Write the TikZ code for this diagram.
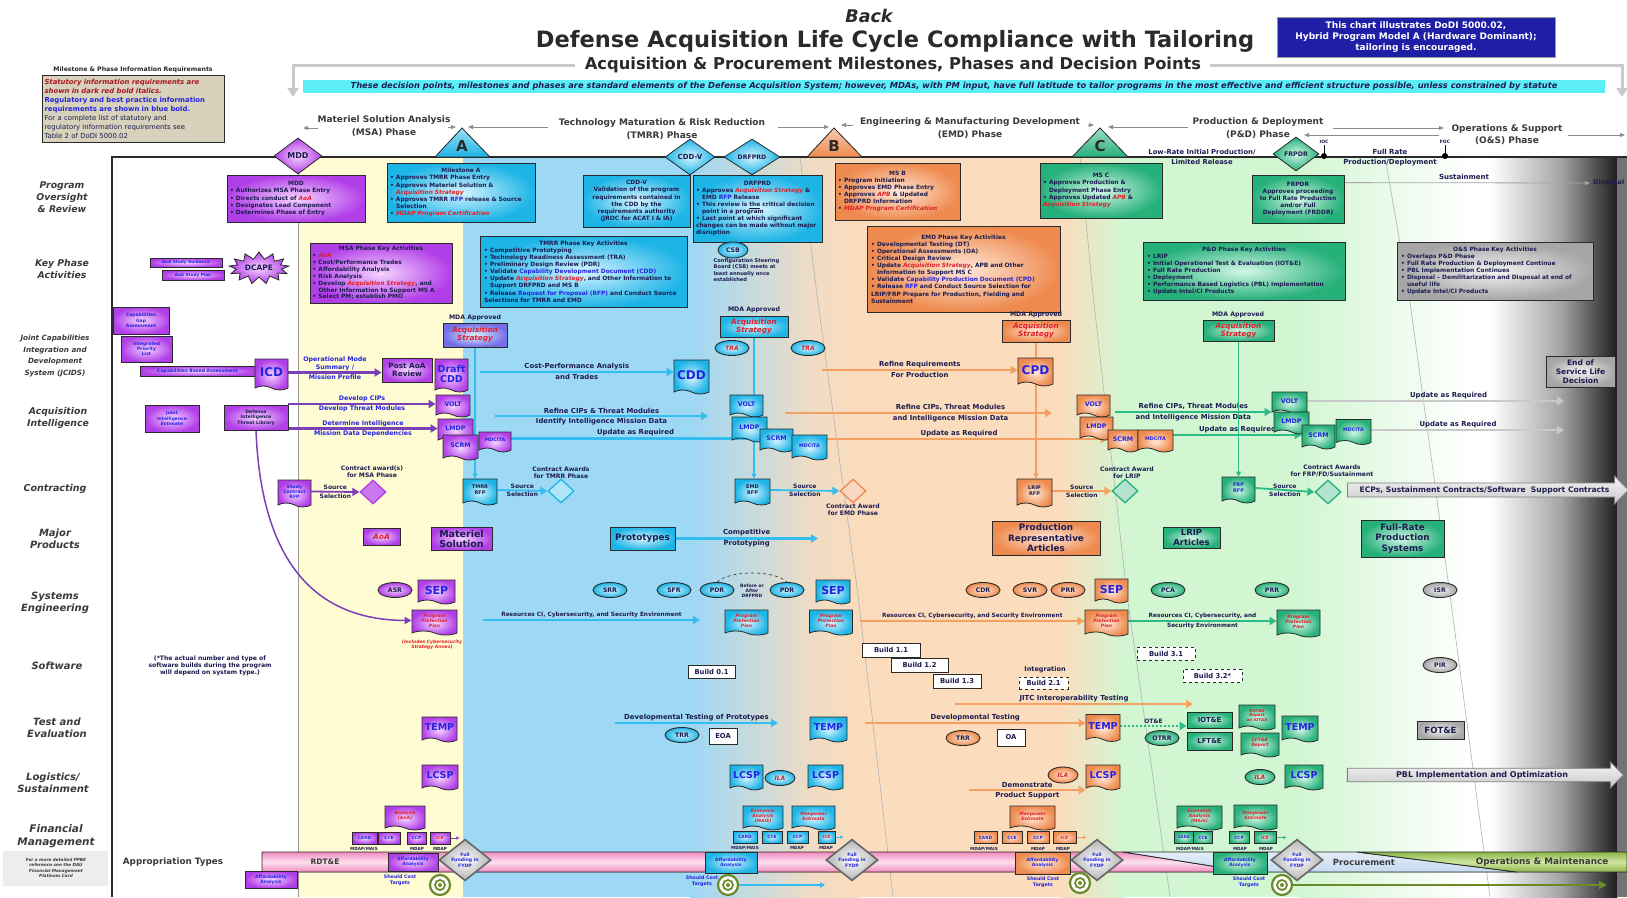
\documentclass[tikz,border=0pt]{standalone}
\usepackage{fontspec}
\setmainfont{DejaVu Sans}
\usetikzlibrary{shapes.geometric,shapes.symbols,shapes.arrows,arrows.meta,calc}
\pgfdeclarelayer{back}
\pgfdeclarelayer{mid}
\pgfsetlayers{back,mid,main}
\hyphenpenalty=10000
\exhyphenpenalty=10000
\definecolor{ink}{HTML}{1C1C50}
\definecolor{stat}{HTML}{E0202A}
\definecolor{reg}{HTML}{2424E0}
\definecolor{edge}{HTML}{2A2A2A}
\definecolor{purD}{HTML}{B13FE8}
\definecolor{purL}{HTML}{F6D4FF}
\definecolor{purA}{HTML}{7B3FB8}
\definecolor{cyaD}{HTML}{1DB4E6}
\definecolor{cyaL}{HTML}{D6F4FF}
\definecolor{cyaA}{HTML}{33BDF0}
\definecolor{oraD}{HTML}{EE8A4E}
\definecolor{oraL}{HTML}{FFE9DA}
\definecolor{oraA}{HTML}{F5A060}
\definecolor{greD}{HTML}{26B07A}
\definecolor{greL}{HTML}{D2F7E6}
\definecolor{greA}{HTML}{2DBB88}
\definecolor{graD}{HTML}{A6A6A6}
\definecolor{graL}{HTML}{F4F4F4}
\definecolor{graA}{HTML}{C9C9C9}
\definecolor{yelBG}{HTML}{FFFBD2}
\definecolor{bluBG}{HTML}{9DD8F5}
\definecolor{tanBG}{HTML}{F0DCC4}
\definecolor{peaBG}{HTML}{FBDCBC}
\definecolor{grnBG}{HTML}{D2F6D2}
\definecolor{olv}{HTML}{6B8A2A}
\definecolor{navyB}{HTML}{1E1EA6}
\definecolor{bannerC}{HTML}{5BEEF6}
\definecolor{legC}{HTML}{D8D1BC}
\definecolor{pinkD}{HTML}{F08CC0}
\definecolor{pinkL}{HTML}{FDE0EE}
\definecolor{procC}{HTML}{C6DAF0}
\definecolor{omD}{HTML}{8DB548}
\definecolor{omL}{HTML}{CFE6A2}
\definecolor{lab}{HTML}{3A3A3A}
\newcommand\fs[2]{\fontsize{#1}{#2}\selectfont}
\newcommand\rtx[1]{\textcolor{stat}{\itshape #1}}
\newcommand\btx[1]{\textcolor{reg}{#1}}
\newcommand\bitem[1]{\par\hangindent=6pt\hangafter=1\noindent\makebox[6pt][l]{\textbullet}#1}
\newcommand\tgt[2]{\node[circle, draw=olv, line width=2.2pt, fill=white, minimum size=20pt, inner sep=0pt] (#1) at (#2) {};\draw[olv, line width=1.8pt] (#1) circle (5pt);\fill[olv] (#1) circle (2pt);}
\tikzset{
 every node/.style={inner sep=1.5pt, text=ink, font=\bfseries\fs{5.9}{7.1}},
 sz/.style 2 args={minimum width=#1pt, minimum height=#2pt},
 tw/.style={text width=#1pt, align=left},
 bx/.style={rectangle, draw=edge, line width=0.8pt},
 purb/.style={bx, inner color=purL, outer color=purD},
 cyab/.style={bx, inner color=cyaL, outer color=cyaD},
 orab/.style={bx, inner color=oraL, outer color=oraD},
 greb/.style={bx, inner color=greL, outer color=greD},
 grab/.style={bx, inner color=graL, outer color=graD},
 docb/.style={tape, tape bend top=none, tape bend bottom=out and in, tape bend height=4pt, draw=edge, line width=0.8pt, inner sep=1pt, align=center},
 pdoc/.style={docb, inner color=purL, outer color=purD},
 cdoc/.style={docb, inner color=cyaL, outer color=cyaD},
 odoc/.style={docb, inner color=oraL, outer color=oraD},
 gdoc/.style={docb, inner color=greL, outer color=greD},
 ellb/.style={ellipse, draw=edge, line width=0.9pt, inner sep=0pt, minimum width=34pt, minimum height=15pt, font=\bfseries\fs{6.2}{6.5}},
 pell/.style={ellb, inner color=purL, outer color=purD},
 cell/.style={ellb, inner color=cyaL, outer color=cyaD},
 oell/.style={ellb, inner color=oraL, outer color=oraD},
 gell/.style={ellb, inner color=greL, outer color=greD},
 yell/.style={ellb, inner color=graL, outer color=graD},
 dia/.style={diamond, draw=edge, line width=0.8pt, inner sep=0pt},
 awd/.style={diamond, draw=#1, line width=1.3pt, fill=white!65!#1, minimum width=26pt, minimum height=24pt, inner sep=0pt},
 ffd/.style={diamond, draw=black!60, line width=1.6pt, inner color=white, outer color=black!30, minimum width=52pt, minimum height=36pt, inner sep=0pt, align=center, text=reg, font=\bfseries\fs{4.6}{5.3}},
 arr/.style={line width=2.2pt, -{Triangle[length=7pt,width=8pt]}},
 parr/.style={arr, draw=purA},
 carr/.style={arr, draw=cyaA},
 oarr/.style={arr, draw=oraA},
 garr/.style={arr, draw=greA},
 yarr/.style={arr, draw=graA},
 tarr/.style={line width=0.8pt, -{Triangle[length=5pt,width=4pt]}},
 lbl/.style={font=\bfseries\fs{6.9}{7.8}, inner sep=1pt, align=center},
 blbl/.style={font=\bfseries\fs{6.3}{7.2}, inner sep=1pt, align=center, text=reg},
 slbl/.style={font=\bfseries\fs{6}{6.8}, inner sep=1pt, align=center},
 clbl/.style={font=\bfseries\fs{6.1}{7}, inner sep=1pt, align=center},
 mlbl/.style={font=\bfseries\fs{4.2}{4.5}, inner sep=0.5pt},
 rlbl/.style={font=\bfseries\fs{5.8}{6.6}, inner sep=1pt, align=center},
 mda/.style={font=\bfseries\fs{6.2}{6.5}, inner sep=1pt},
 rowlab/.style={font=\bfseries\itshape\fs{10}{12.2}, text=lab, align=center},
 phlab/.style={font=\bfseries\fs{9}{12.5}, text=lab, align=center},
 tri/.style={draw=edge, line width=0.8pt},
 msl/.style={font=\bfseries\fs{15}{15}, text=edge},
 bld/.style={bx, fill=white, font=\bfseries\fs{6.8}{7}},
 bldd/.style={bld, dashed},
 bigd/.style={text=reg, font=\bfseries\fs{#1}{#1}},
 dtx/.style={text=reg, font=\bfseries\fs{6.3}{6.5}},
 mdx/.style={text=reg, font=\bfseries\fs{4.8}{5}},
 redt/.style={text=stat, font=\bfseries\itshape\fs{4.5}{5.1}},
 acqs/.style={text=stat, font=\bfseries\itshape\fs{7.3}{8}, align=center},
 sbx/.style={font=\bfseries\fs{4.3}{4.8}, text=reg, inner sep=0pt},
 afx/.style={font=\bfseries\fs{4.5}{5.2}, text=reg, align=center, inner sep=0.5pt},
}
\begin{document}
\begin{tikzpicture}[x=1pt,y=-1pt]
\useasboundingbox (0,0) rectangle (1627,897);
\begin{pgfonlayer}{back}
\fill[white] (0,0) rectangle (1627,897);
\fill[yelBG] (298,157) rectangle (463,897);
\fill[bluBG] (463,157) rectangle (690,897);
\fill[left color=bluBG, right color=tanBG] (690,157) rectangle (812,897);
\fill[left color=tanBG, right color=peaBG] (812,157) rectangle (860,897);
\fill[peaBG] (860,157) rectangle (1060,897);
\fill[left color=peaBG, right color=grnBG] (1060,157) rectangle (1125,897);
\fill[grnBG] (1125,157) rectangle (1300,897);
\fill[left color=grnBG, right color=white] (1300,157) rectangle (1470,897);
\fill[left color=white, right color=black!35] (1490,157) rectangle (1560,897);
\fill[left color=black!35, right color=black!88] (1560,157) rectangle (1617,897);
\fill[black!55] (1617,157) rectangle (1627,897);
\fill[black!7] (3,851) rectangle (108,886);
\draw[black!30, line width=0.6pt] (800,157) -- (817,295) -- (858,595) -- (893,897);
\draw[black!30, line width=0.6pt] (1080,157) -- (1093,295) -- (1127,595) -- (1170,897);
\draw[black!30, line width=0.6pt] (1385,157) -- (1409,295) -- (1450,595) -- (1490,897);
\draw[black!20, line width=0.5pt] (463,157) -- (463,897);
\draw[black!40, line width=0.7pt] (298,157) -- (298,897);
\end{pgfonlayer}
% header
\draw[graA, line width=3pt, -{Triangle[length=9pt,width=11pt]}] (575,65) -- (293,65) -- (293,97);
\draw[graA, line width=3pt, -{Triangle[length=9pt,width=11pt]}] (1210,65) -- (1622,65) -- (1622,97);
\node[font=\bfseries\itshape\fs{17.5}{17.5}, text=edge] (back) at (869,16) {Back};
\node[font=\bfseries\fs{22.5}{22.5}, text=edge] (title) at (895,41) {Defense Acquisition Life Cycle Compliance with Tailoring};
\node[font=\bfseries\fs{16.3}{16.3}, text=edge, fill=white, inner sep=2pt] (subtitle) at (893,65) {Acquisition \& Procurement Milestones, Phases and Decision Points};
\node[rectangle, fill=navyB, draw=black!40, line width=0.6pt, sz={278}{40}, text=white, align=center, font=\bfseries\fs{9}{11}] (chart) at (1416,37) {This chart illustrates DoDI 5000.02,\\Hybrid Program Model A (Hardware Dominant);\\tailoring is encouraged.};
\node[rectangle, fill=bannerC, sz={1302}{13}, font=\bfseries\itshape\fs{8.3}{8.5}, inner sep=0pt] (banner) at (954,86.5) {These decision points, milestones and phases are standard elements of the Defense Acquisition System; however, MDAs, with PM input, have full latitude to tailor programs in the most effective and efficient structure possible, unless constrained by statute};
\node[font=\bfseries\fs{6.2}{7}, text=edge] (legt) at (133,70) {Milestone \& Phase Information Requirements};
\node[rectangle, fill=legC, draw=edge, line width=0.9pt, sz={182}{67}, text width=177pt, align=left, font=\bfseries\fs{6.9}{9}, inner sep=2.5pt] (leg) at (133,108.5) {\textcolor{stat!75!black}{\itshape Statutory information requirements are}\\\textcolor{stat!75!black}{\itshape shown in dark red bold italics.}\\\textcolor{reg}{Regulatory and best practice information}\\\textcolor{reg}{requirements are shown in blue bold.}\\{\mdseries For a complete list of statutory and}\\{\mdseries regulatory information requirements see}\\{\mdseries Table 2 of DoDI 5000.02}};
% phase labels
\node[phlab] (pMSA) at (384,126) {Materiel Solution Analysis\\(MSA) Phase};
\node[phlab] (pTM) at (662,129) {Technology Maturation \& Risk Reduction\\(TMRR) Phase};
\node[phlab] (pEMD) at (970,128) {Engineering \& Manufacturing Development\\(EMD) Phase};
\node[phlab] (pPD) at (1258,128) {Production \& Deployment\\(P\&D) Phase};
\node[phlab] (pOS) at (1507,134.5) {Operations \& Support\\(O\&S) Phase};
\draw[black!45, tarr] (318,128) -- (303,128);
\draw[black!45, tarr] (448,127) -- (456,127);
\draw[black!45, tarr] (548,127) -- (468,127);
\draw[black!45, tarr] (778,127) -- (829,127);
\draw[black!45, tarr] (853,125) -- (841,125);
\draw[black!45, tarr] (1088,125) -- (1094,125);
\draw[black!45, tarr] (1188,127) -- (1108,127);
\draw[black!45, tarr] (1333,128) -- (1444,128);
\draw[black!45, tarr] (1439,135) -- (1304,135);
\draw[black!45, tarr] (1568,135) -- (1625,135);
% frame
\draw[edge, line width=1.2pt] (112,897) -- (112,157) -- (1627,157);
\filldraw[tri, top color=cyaD!45, bottom color=cyaD] (435,157) -- (462,128) -- (490,157) -- cycle;
\filldraw[tri, top color=oraD!45, bottom color=oraD] (807,157) -- (834,128) -- (862,157) -- cycle;
\filldraw[tri, top color=greD!45, bottom color=greD] (1072,157) -- (1100,128) -- (1128,157) -- cycle;
\node[msl] (mA) at (462,146) {A};
\node[msl] (mB) at (834,146) {B};
\node[msl] (mC) at (1100,146) {C};
% row labels
\node[rowlab, font=\bfseries\itshape\fs{9.3}{12}] (rPO) at (62,197) {Program\\Oversight\\\& Review};
\node[rowlab, font=\bfseries\itshape\fs{9.3}{12}] (rKP) at (62,269) {Key Phase\\Activities};
\node[rowlab, font=\bfseries\itshape\fs{7.2}{11.8}] (rJC) at (55,356) {Joint Capabilities\\Integration and\\Development\\System (JCIDS)};
\node[rowlab, font=\bfseries\itshape\fs{9.3}{12}] (rAI) at (58,418) {Acquisition\\Intelligence};
\node[rowlab, font=\bfseries\itshape\fs{9.5}{12}] (rCO) at (55,489) {Contracting};
\node[rowlab] (rMP) at (55,538.5) {Major\\Products};
\node[rowlab] (rSE) at (55,603) {Systems\\Engineering};
\node[rowlab] (rSW) at (57,666) {Software};
\node[rowlab] (rTE) at (57,727.5) {Test and\\Evaluation};
\node[rowlab] (rLS) at (53,783) {Logistics/\\Sustainment};
\node[rowlab, font=\bfseries\itshape\fs{10.5}{13}] (rFM) at (56,836.5) {Financial\\Management};
\node[font=\bfseries\itshape\fs{4.2}{5.6}, text=lab, align=center] (ppbe) at (56,868) {For a more detailed PPBE\\reference see the DAU\\Financial Management\\Platinum Card};
\node[font=\bfseries\fs{8.8}{9}, text=lab] (appt) at (173,862) {Appropriation Types};
% ===== Program oversight
\node[dia, inner color=purL, outer color=purD, sz={48}{36}, font=\bfseries\fs{8}{8}] (mdd) at (298,156) {MDD};
\node[purb, sz={138}{47}, tw=132] (mddbox) at (296,198.5) {\centerline{MDD}\bitem{Authorizes MSA Phase Entry}\bitem{Directs conduct of \rtx{AoA}}\bitem{Designates Lead Component}\bitem{Determines Phase of Entry}};
\node[cyab, sz={148}{59}, tw=142] (msAbox) at (461,192.5) {\centerline{Milestone A}\bitem{Approves TMRR Phase Entry}\bitem{Approves Materiel Solution \& \rtx{Acquisition Strategy}}\bitem{Approves TMRR \btx{RFP} release \& Source Selection}\bitem{\rtx{MDAP Program Certification}}};
\node[dia, inner color=cyaL, outer color=cyaD, sz={50}{36}, font=\bfseries\fs{7}{7}] (cddv) at (690,157) {CDD-V};
\node[dia, inner color=cyaL, outer color=cyaD, sz={56}{36}, font=\bfseries\fs{6.2}{6.2}] (drfprd) at (752,157) {DRFPRD};
\node[cyab, sz={107}{52}, text width=101pt, align=center] (cddvbox) at (636.5,201) {CDD-V\\Validation of the program\\requirements contained in\\the CDD by the\\requirements authority\\(JROC for ACAT I \& IA)};
\node[cyab, sz={129}{67}, tw=123] (drfprdbox) at (757.5,208.5) {\centerline{DRFPRD}\bitem{Approves \rtx{Acquisition Strategy} \& EMD \btx{RFP} Release}\bitem{This review is \underline{the} critical decision point in a program}\bitem{Last point at which significant changes can be made without major disruption}};
\node[cell, sz={30}{16}] (csb) at (733,250) {CSB};
\node[font=\bfseries\fs{5.1}{6.3}, align=left, anchor=north west] (csbt) at (712,257) {Configuration Steering\\Board (CSB) meets at\\least annually once\\established};
\node[orab, sz={125}{57}, tw=119] (msBbox) at (897.5,191.5) {\centerline{MS B}\bitem{Program Initiation}\bitem{Approves EMD Phase Entry}\bitem{Approves \rtx{APB} \& Updated DRFPRD Information}\bitem{\rtx{MDAP Program Certification}}};
\node[greb, sz={122}{55}, tw=116] (msCbox) at (1101,190.5) {\centerline{MS C}\bitem{Approves Production \& Deployment Phase Entry}\bitem{Approves Updated \rtx{APB} \& \rtx{Acquisition Strategy}}};
\node[font=\bfseries\fs{6.8}{10}, align=center] (lrip) at (1202,157) {Low-Rate Initial Production/\\Limited Release};
\node[dia, inner color=greL, outer color=greD, sz={46}{34}, font=\bfseries\fs{6.3}{6.3}] (frpdr) at (1296,154) {FRPDR};
\node[font=\bfseries\fs{4.5}{5}] (iocl) at (1324,142) {IOC};
\node[circle, fill=black, minimum size=6pt, inner sep=0pt] (ioc) at (1324,156) {};
\node[font=\bfseries\fs{4.5}{5}] (focl) at (1445,142) {FOC};
\node[circle, fill=black, minimum size=6pt, inner sep=0pt] (foc) at (1445,156) {};
\node[font=\bfseries\fs{7}{10}, align=center] (frpd) at (1390,158) {Full Rate\\Production/Deployment};
\node[greb, sz={92}{48}, text width=88pt, align=center] (frpdrbox) at (1298,199) {FRPDR\\Approves proceeding\\to Full Rate Production\\and/or Full\\Deployment (FRDDR)};
\node[font=\bfseries\fs{7}{7}] (sust) at (1464,177) {Sustainment};
\coordinate (susE) at (1590,183);
\node[font=\bfseries\fs{6.5}{6.5}, anchor=west, inner sep=0pt] (disp) at (1593,183) {Disposal};
% ===== Key phase activities
\node[purb, sz={72}{9}, font=\bfseries\fs{4.2}{4.4}, text=reg, inner sep=0pt] (aoasg) at (186,262.5) {AoA Study Guidance};
\node[purb, sz={62}{10}, font=\bfseries\fs{4.2}{4.4}, text=reg, inner sep=0pt] (aoasp) at (193,275) {AoA Study Plan};
\node[starburst, starburst points=13, starburst point height=7pt, random starburst=0, draw=edge, line width=0.8pt, inner color=purL, outer color=purD, sz={60}{32}, font=\bfseries\fs{7.5}{7.5}] (dcape) at (259,268) {DCAPE};
\node[purb, sz={142}{60}, tw=137, font=\bfseries\fs{5.9}{6.9}] (msakey) at (381,273) {\centerline{MSA Phase Key Activities}\bitem{\rtx{AoA}}\bitem{Cost/Performance Trades}\bitem{Affordability Analysis}\bitem{Risk Analysis}\bitem{Develop \rtx{Acquisition Strategy}, and Other Information to Support MS A}\bitem{Select PM; establish PMO}};
\node[cyab, sz={207}{71}, tw=199] (tmrrkey) at (583.5,271.5) {\centerline{TMRR Phase Key Activities}\bitem{Competitive Prototyping}\bitem{Technology Readiness Assessment (TRA)}\bitem{Preliminary Design Review (PDR)}\bitem{Validate \btx{Capability Development Document (CDD)}}\bitem{Update \rtx{Acquisition Strategy}, and Other Information to Support DRFPRD and MS B}\bitem{Release \btx{Request for Proposal (RFP)} and Conduct Source Selections for TMRR and EMD}};
\node[orab, sz={193}{86}, tw=185] (emdkey) at (963.5,269) {\centerline{EMD Phase Key Activities}\bitem{Developmental Testing (DT)}\bitem{Operational Assessments (OA)}\bitem{Critical Design Review}\bitem{Update \rtx{Acquisition Strategy}, APB and Other Information to Support MS C}\bitem{Validate \btx{Capability Production Document (CPD)}}\bitem{Release \btx{RFP} and Conduct Source Selection for LRIP/FRP Prepare for Production, Fielding and Sustainment}};
\node[greb, sz={202}{58}, tw=194] (pdkey) at (1244,271) {\centerline{P\&D Phase Key Activities}\bitem{LRIP}\bitem{Initial Operational Test \& Evaluation (IOT\&E)}\bitem{Full Rate Production}\bitem{Deployment}\bitem{Performance Based Logistics (PBL) Implementation}\bitem{Update Intel/CI Products}};
\node[grab, sz={196}{58}, tw=188] (oskey) at (1495,271) {\centerline{O\&S Phase Key Activities}\bitem{Overlaps P\&D Phase}\bitem{Full Rate Production \& Deployment Continue}\bitem{PBL Implementation Continues}\bitem{Disposal -- Demilitarization and Disposal at end of useful life}\bitem{Update Intel/CI Products}};
% ===== JCIDS
\node[purb, sz={56}{27}, font=\bfseries\fs{4.5}{5.2}, align=center, text=reg] (cga) at (141,320.5) {Capabilities\\Gap\\Assessment};
\node[purb, sz={51}{26}, font=\bfseries\fs{4.5}{5.2}, align=center, text=reg] (ipl) at (146.5,349) {Integrated\\Priority\\List};
\node[purb, sz={115}{10}, font=\bfseries\fs{4.6}{5}, text=reg, inner sep=0pt] (cba) at (197.5,371) {Capabilities Based Assessment};
\node[pdoc, sz={33}{31}, bigd=12] (icd) at (271.5,372.5) {ICD};
\node[purb, sz={50}{24}, font=\bfseries\fs{7.3}{8.3}, align=center] (postaoa) at (407,370) {Post AoA\\Review};
\node[pdoc, sz={33}{33}, font=\bfseries\fs{9.5}{10}, text=reg] (draftcdd) at (451.5,373.5) {Draft\\CDD};
\node[mda] (mdaP) at (475,318) {MDA Approved};
\node[bx, inner color=cyaL, outer color=purD!60!cyaD, sz={64}{24}, acqs] (acqP) at (475,335) {Acquisition\\Strategy};
\node[cdoc, sz={35}{34}, bigd=12] (cdd) at (691.5,375) {CDD};
\node[mda] (mdaC) at (754,310) {MDA Approved};
\node[cyab, sz={68}{21}, acqs] (acqC) at (754,326.5) {Acquisition\\Strategy};
\node[cell, text=stat, font=\bfseries\itshape\fs{6}{6}] (tra1) at (732,348) {TRA};
\node[cell, text=stat, font=\bfseries\itshape\fs{6}{6}] (tra2) at (808,348) {TRA};
\node[odoc, sz={35}{28}, bigd=12] (cpd) at (1035.5,370) {CPD};
\node[mda] (mdaO) at (1036,315) {MDA Approved};
\node[orab, sz={68}{22}, acqs] (acqO) at (1036,331) {Acquisition\\Strategy};
\node[mda] (mdaG) at (1238,315) {MDA Approved};
\node[greb, sz={71}{21}, acqs] (acqG) at (1238.5,330.5) {Acquisition\\Strategy};
\node[grab, sz={69}{31}, font=\bfseries\fs{7.5}{8.8}, align=center] (eosl) at (1580.5,371.5) {End of\\Service Life\\Decision};
% ===== Acquisition intelligence
\node[purb, sz={54}{27}, font=\bfseries\fs{4.5}{5.2}, align=center, text=reg] (jie) at (172,418.5) {Joint\\Intelligence\\Estimate};
\node[purb, sz={64}{25}, font=\bfseries\fs{4.6}{5.3}, align=center] (ditl) at (256,417.5) {Defense\\Intelligence\\Threat Library};
\node[pdoc, sz={34}{22}, dtx] (voltP) at (453,404) {VOLT};
\node[pdoc, sz={35}{23}, dtx] (lmdpP) at (455.5,428.5) {LMDP};
\node[pdoc, sz={35}{25}, dtx] (scrmP) at (460.5,445.5) {SCRM};
\node[pdoc, sz={32}{20}, mdx] (mdcitaP) at (495,440) {MDCITA};
\node[cdoc, sz={33}{22}, dtx] (voltC) at (746.5,404) {VOLT};
\node[cdoc, sz={35}{25}, dtx] (lmdpC) at (749.5,427.5) {LMDP};
\node[cdoc, sz={33}{23}, dtx] (scrmC) at (776.5,438.5) {SCRM};
\node[cdoc, sz={35}{25}, mdx] (mdcitaC) at (809.5,445.5) {MDCITA};
\node[odoc, sz={33}{22}, dtx] (voltO) at (1093.5,404) {VOLT};
\node[odoc, sz={33}{23}, dtx] (lmdpO) at (1096.5,426.5) {LMDP};
\node[odoc, sz={30}{22}, dtx] (scrmO) at (1123,439) {SCRM};
\node[odoc, sz={35}{22}, mdx] (mdcitaO) at (1155.5,439) {MDCITA};
\node[gdoc, sz={35}{22}, dtx] (voltG) at (1289.5,401) {VOLT};
\node[gdoc, sz={35}{22}, dtx] (lmdpG) at (1291.5,421) {LMDP};
\node[gdoc, sz={33}{24}, dtx] (scrmG) at (1318.5,435) {SCRM};
\node[gdoc, sz={35}{25}, mdx] (mdcitaG) at (1353.5,430) {MDCITA};
% ===== Contracting
\node[pdoc, sz={33}{27}, font=\bfseries\fs{4.6}{5.2}, text=reg] (scrfp) at (294.5,491.5) {Study\\Contract\\RFP};
\node[awd=purD, fill=purD!70] (msaaw) at (373,492) {};
\node[clbl] (msaawl) at (372,472) {Contract award(s)\\for MSA Phase};
\node[cdoc, sz={34}{26}, font=\bfseries\fs{5}{5.8}] (tmrrrfp) at (480,490) {TMRR\\RFP};
\node[awd=cyaD] (tmrraw) at (561,491) {};
\node[clbl] (tmrrawl) at (561,473) {Contract Awards\\for TMRR Phase};
\node[cdoc, sz={35}{26}, font=\bfseries\fs{5}{5.8}] (emdrfp) at (752.5,490) {EMD\\RFP};
\node[awd=oraD] (emdaw) at (853,491) {};
\node[clbl] (emdawl) at (853,510) {Contract Award\\for EMD Phase};
\node[odoc, sz={35}{28}, font=\bfseries\fs{5}{5.8}] (lriprfp) at (1034.5,491) {LRIP\\RFP};
\node[awd=greD] (lripaw) at (1125,491) {};
\node[clbl] (lripawl) at (1127,473) {Contract Award\\for LRIP};
\node[gdoc, sz={33}{26}, font=\bfseries\fs{5}{5.8}, text=reg] (frprfp) at (1238.5,488) {FRP\\RFP};
\node[awd=greD] (frpaw) at (1328,492) {};
\node[clbl] (frpawl) at (1332,471) {Contract Awards\\for FRP/FD/Sustainment};
\node[single arrow, draw=black!50, line width=0.8pt, top color=graL, bottom color=graA, minimum height=281pt, minimum width=28pt, single arrow head extend=5pt, inner sep=1pt, font=\bfseries\fs{7.6}{7.8}] (ecp) at (1484.5,490) {ECPs, Sustainment Contracts/Software\ \ Support Contracts};
% ===== Major products
\node[purb, sz={37}{17}, text=stat, font=\bfseries\itshape\fs{7.5}{7.5}] (aoaP) at (381.5,536.5) {AoA};
\node[purb, sz={61}{23}, font=\bfseries\fs{9.5}{10}, align=center] (matsol) at (461.5,538.5) {Materiel\\Solution};
\node[cyab, sz={65}{23}, font=\bfseries\fs{8.8}{9}] (proto) at (642.5,538.5) {Prototypes};
\node[orab, sz={108}{34}, font=\bfseries\fs{8.8}{10.3}, align=center] (pra) at (1046,538) {Production\\Representative\\Articles};
\node[greb, sz={57}{21}, font=\bfseries\fs{8.5}{9.2}, align=center] (lripart) at (1191.5,537.5) {LRIP\\Articles};
\node[greb, sz={83}{37}, font=\bfseries\fs{8.8}{10.3}, align=center] (frps) at (1402.5,538.5) {Full-Rate\\Production\\Systems};
% ===== Systems engineering
\node[pell] (asr) at (395,590) {ASR};
\node[pdoc, sz={37}{24}, bigd=11] (sepP) at (436.5,590) {SEP};
\node[pdoc, sz={45}{25}, redt] (pppP) at (434.5,620.5) {Program\\Protection\\Plan};
\node[redt, align=center] (pppPn) at (432,645) {(Includes Cybersecurity\\Strategy Annex)};
\node[cell] (srr) at (610,590) {SRR};
\node[cell] (sfr) at (674,590) {SFR};
\node[cell] (pdr1) at (717,590) {PDR};
\node[cell] (pdr2) at (787,590) {PDR};
\node[lbl, font=\bfseries\fs{4.5}{5.2}] (bfa) at (752,591) {Before or\\After\\DRFPRD};
\node[cdoc, sz={34}{24}, bigd=11] (sepC) at (833,590) {SEP};
\node[cdoc, sz={43}{25}, redt] (pppC1) at (746.5,620.5) {Program\\Protection\\Plan};
\node[cdoc, sz={43}{25}, redt] (pppC2) at (831,620.5) {Program\\Protection\\Plan};
\node[oell] (cdr) at (983,590) {CDR};
\node[oell] (svr) at (1030,590) {SVR};
\node[oell] (prr) at (1068,590) {PRR};
\node[odoc, sz={33}{24}, bigd=11] (sepO) at (1111.5,589) {SEP};
\node[odoc, sz={43}{26}, redt] (pppO) at (1106.5,621) {Program\\Protection\\Plan};
\node[gell] (pca) at (1168,590) {PCA};
\node[gell] (prrG) at (1272,590) {PRR};
\node[yell] (isr) at (1440,590) {ISR};
\node[gdoc, sz={43}{27}, redt] (pppG) at (1298.5,621.5) {Program\\Protection\\Plan};
% ===== Software
\node[font=\bfseries\fs{6.1}{7.2}, align=center] (swn) at (210,666) {(*The actual number and type of\\software builds during the program\\will depend on system type.)};
\node[bld, sz={47}{13}] (b01) at (711.5,671.5) {Build 0.1};
\node[bld, sz={58}{14}] (b11) at (891,650) {Build 1.1};
\node[bld, sz={57}{14}] (b12) at (919.5,665) {Build 1.2};
\node[bld, sz={48}{14}] (b13) at (957,681) {Build 1.3};
\node[font=\bfseries\fs{6.5}{6.5}] (integ) at (1045,670) {Integration};
\node[bldd, sz={49}{12}] (b21) at (1043.5,683) {Build 2.1};
\node[bldd, sz={58}{13}] (b31) at (1166,653.5) {Build 3.1};
\node[bldd, sz={59}{13}] (b32) at (1212.5,675.5) {Build 3.2*};
\node[yell] (pir) at (1440,665) {PIR};
% ===== T&E
\node[pdoc, sz={35}{25}, bigd=9.5] (tempP) at (439.5,727.5) {TEMP};
\node[cell] (trrC) at (682,735) {TRR};
\node[bx, fill=white, draw=edge, sz={28}{16}, font=\bfseries\fs{6.8}{7}] (eoa) at (723,736) {EOA};
\node[cdoc, sz={37}{25}, bigd=9.5] (tempC) at (828.5,727.5) {TEMP};
\node[oell] (trrO) at (963,738) {TRR};
\node[bx, fill=white, draw=edge, sz={28}{17}, font=\bfseries\fs{6.8}{7}] (oa) at (1011,737.5) {OA};
\node[odoc, sz={34}{27}, bigd=9.5] (tempO) at (1103,726) {TEMP};
\node[gell] (otrr) at (1162,738) {OTRR};
\node[greb, sz={45}{16}, font=\bfseries\fs{6.8}{7}] (iote) at (1209.5,720) {IOT\&E};
\node[greb, sz={45}{18}, font=\bfseries\fs{6.8}{7}] (lfte) at (1209.5,741) {LFT\&E};
\node[gdoc, sz={36}{25}, redt, font=\bfseries\itshape\fs{4}{4.7}] (doterep) at (1257,715.5) {DOT\&E\\Report\\on IOT\&E};
\node[gdoc, sz={38}{24}, redt] (lfterep) at (1260,743) {LFT\&E\\Report};
\node[gdoc, sz={36}{26}, bigd=9.5] (tempG) at (1300,727) {TEMP};
\node[grab, sz={47}{18}, font=\bfseries\fs{8.5}{9}] (fote) at (1440.5,730) {FOT\&E};
% ===== Logistics
\node[pdoc, sz={36}{25}, bigd=9.5] (lcspP) at (440,775.5) {LCSP};
\node[cdoc, sz={33}{25}, bigd=9.5] (lcspC1) at (746.5,775.5) {LCSP};
\node[cell, sz={30}{15}, text=stat, font=\bfseries\itshape\fs{6}{6}] (ilaC) at (780,778) {ILA};
\node[cdoc, sz={35}{25}, bigd=9.5] (lcspC2) at (825.5,775.5) {LCSP};
\node[oell, sz={30}{16}, text=stat, font=\bfseries\itshape\fs{6}{6}] (ilaO) at (1063,775) {ILA};
\node[odoc, sz={34}{25}, bigd=9.5] (lcspO) at (1103,775.5) {LCSP};
\node[gell, sz={30}{15}, text=stat, font=\bfseries\itshape\fs{6}{6}] (ilaG) at (1260,777) {ILA};
\node[gdoc, sz={38}{25}, bigd=9.5] (lcspG) at (1304,775.5) {LCSP};
\node[single arrow, draw=black!50, line width=0.8pt, top color=graL, bottom color=graA, minimum height=276pt, minimum width=26pt, single arrow head extend=5pt, inner sep=1pt, font=\bfseries\fs{8}{8}] (pbl) at (1482,775) {PBL Implementation and Optimization};
% ===== Financial: band
\filldraw[draw=edge, line width=0.8pt, top color=pinkD, bottom color=pinkD, middle color=pinkL] (262,852) -- (1123,852) -- (1250,872) -- (262,872) -- cycle;
\filldraw[draw=edge, line width=0.8pt, top color=procC!50!white, bottom color=procC] (1123,852) -- (1357,852) -- (1517,872) -- (1250,872) -- cycle;
\filldraw[draw=edge, line width=0.8pt, top color=omD, bottom color=omD, middle color=omL] (1357,852) -- (1627,852) -- (1627,872) -- (1517,872) -- cycle;
\node[font=\bfseries\fs{7.5}{8}, text=lab] (rdte) at (325,862) {RDT\&E};
\node[font=\bfseries\fs{8.5}{9}, text=lab] (proc) at (1364,862) {Procurement};
\node[font=\bfseries\fs{8.8}{9}, text=lab] (om) at (1542,862) {Operations \& Maintenance};
% purple financial
\node[pdoc, sz={40}{24}, redt] (eaP) at (405,816) {Analysis\\(AoA)};
\node[purb, sz={25}{12}, sbx] (cardP) at (364.5,838) {CARD};
\node[purb, sz={22}{12}, sbx] (cceP) at (389,838) {CCE};
\node[purb, sz={19}{12}, sbx] (ccpP) at (416.5,838) {CCP};
\node[purb, sz={20}{12}, sbx, text=stat, font=\bfseries\itshape\fs{4.3}{4.8}] (iceP) at (440,838) {ICE};
\node[mlbl] (mmP1) at (364,849) {MDAP/MAIS};
\node[mlbl] (mmP2) at (417,849) {MDAP};
\node[mlbl] (mmP3) at (440,849) {MDAP};
\node[purb, sz={50}{18}, afx] (afP) at (413,862) {Affordability\\Analysis};
\node[purb, sz={52}{17}, afx] (afP2) at (271,879.5) {Affordability\\Analysis};
\node[lbl, text=reg, font=\bfseries\fs{4.8}{5.5}] (scP) at (400,880) {Should Cost\\Targets};
\tgt{tgtP}{440,885}
\node[ffd] (ffP) at (465,860) {Full\\Funding in\\FYDP};
% cyan financial
\node[cdoc, sz={40}{24}, redt] (eaC) at (763,816) {Economic\\Analysis\\(MAIS)};
\node[cdoc, sz={43}{24}, redt] (meC) at (813.5,816) {Manpower\\Estimate};
\node[cyab, sz={24}{12}, sbx] (cardC) at (745,837) {CARD};
\node[cyab, sz={20}{12}, sbx] (cceC) at (772,837) {CCE};
\node[cyab, sz={21}{12}, sbx] (ccpC) at (797.5,837) {CCP};
\node[cyab, sz={17}{12}, sbx, text=stat, font=\bfseries\itshape\fs{4.3}{4.8}] (iceC) at (826.5,837) {ICE};
\node[mlbl] (mmC1) at (745,848) {MDAP/MAIS};
\node[mlbl] (mmC2) at (797,848) {MDAP};
\node[mlbl] (mmC3) at (826,848) {MDAP};
\node[cyab, sz={52}{21}, afx] (afC) at (731,862.5) {Affordability\\Analysis};
\node[lbl, text=reg, font=\bfseries\fs{4.8}{5.5}] (scC) at (702,881) {Should Cost\\Targets};
\tgt{tgtC}{728,885}
\node[ffd] (ffC) at (852,860) {Full\\Funding in\\FYDP};
% orange financial
\node[odoc, sz={45}{24}, redt] (meO) at (1032.5,816) {Manpower\\Estimate};
\node[orab, sz={23}{12}, sbx] (cardO) at (985.5,837.5) {CARD};
\node[orab, sz={20}{12}, sbx] (cceO) at (1012,837.5) {CCE};
\node[orab, sz={22}{12}, sbx] (ccpO) at (1038,837.5) {CCP};
\node[orab, sz={23}{12}, sbx, text=stat, font=\bfseries\itshape\fs{4.3}{4.8}] (iceO) at (1064.5,837.5) {ICE};
\node[mlbl] (mmO1) at (984,849) {MDAP/MAIS};
\node[mlbl] (mmO2) at (1038,849) {MDAP};
\node[mlbl] (mmO3) at (1063,849) {MDAP};
\node[orab, sz={55}{22}, afx] (afO) at (1042.5,863) {Affordability\\Analysis};
\node[lbl, text=reg, font=\bfseries\fs{4.8}{5.5}] (scO) at (1043,882) {Should Cost\\Targets};
\tgt{tgtO}{1080,883}
\node[ffd] (ffO) at (1097,860) {Full\\Funding in\\FYDP};
% green financial
\node[gdoc, sz={45}{24}, redt] (eaG) at (1199.5,816) {Economic\\Analysis\\(MAIS)};
\node[gdoc, sz={43}{25}, redt] (meG) at (1255.5,815.5) {Manpower\\Estimate};
\node[greb, sz={19}{12}, sbx, font=\bfseries\fs{3.7}{4.5}] (cardG) at (1184,837.5) {CARD};
\node[greb, sz={19}{12}, sbx] (cceG) at (1203,837.5) {CCE};
\node[greb, sz={20}{12}, sbx] (ccpG) at (1239,837.5) {CCP};
\node[greb, sz={22}{12}, sbx, text=stat, font=\bfseries\itshape\fs{4.3}{4.8}] (iceG) at (1265,837.5) {ICE};
\node[mlbl] (mmG1) at (1190,849) {MDAP/MAIS};
\node[mlbl] (mmG2) at (1240,849) {MDAP};
\node[mlbl] (mmG3) at (1266,849) {MDAP};
\node[greb, sz={54}{22}, afx] (afG) at (1240,863) {Affordability\\Analysis};
\node[lbl, text=reg, font=\bfseries\fs{4.8}{5.5}] (scG) at (1249,882) {Should Cost\\Targets};
\tgt{tgtG}{1282,885}
\node[ffd] (ffG) at (1297,860) {Full\\Funding in\\FYDP};
\coordinate (olE) at (1607,885);
% ===== connectors
\begin{pgfonlayer}{mid}
\draw[black, line width=1pt] (iocl.south) -- (ioc);
\draw[black, line width=1pt] (focl.south) -- (foc);
\draw[graD, tarr] ($(frpdrbox.north east)+(0,8)$) -- (susE);
\draw[parr] (icd.east) -- node[blbl, above] (l1) {Operational Mode\\Summary /} node[blbl, below] (l2) {Mission Profile} (icd.east -| postaoa.west);
\coordinate (cpaS) at (480,372);
\draw[carr] (cpaS) -- node[lbl, above] (l3) {Cost-Performance Analysis} node[lbl, below] (l4) {and Trades} (cpaS -| cdd.west);
\coordinate (rrpS) at (822,370);
\draw[oarr] (rrpS) -- node[lbl, above] (l5) {Refine Requirements} node[lbl, below] (l6) {For Production} (rrpS -| cpd.west);
\draw[parr] (ditl.east |- voltP.west) -- node[blbl, above] (l7) {Develop CIPs} node[blbl, below] (l8) {Develop Threat Modules} (voltP.west);
\draw[parr] (ditl.east |- lmdpP.west) -- node[blbl, above] (l9) {Determine Intelligence} node[blbl, below] (l10) {Mission Data Dependencies} (lmdpP.west);
\coordinate (rcS) at (495,416);
\coordinate (rcE) at (708,416);
\draw[carr] (rcS) -- node[lbl, above] (l11) {Refine CIPs \& Threat Modules} node[lbl, below] (l12) {Identify Intelligence Mission Data} (rcE);
\draw[carr] (mdcitaP.east |- scrmC.west) -- node[lbl, above] (l13) {Update as Required} (scrmC.west);
\coordinate (roS) at (785,413);
\coordinate (roE) at (1052,413);
\draw[oarr] (roS) -- node[lbl, above, pos=0.62] (l14) {Refine CIPs, Threat Modules} node[lbl, below, pos=0.62] (l15) {and Intelligence Mission Data} (roE);
\draw[oarr] (mdcitaC.east |- scrmO.west) -- node[lbl, above, pos=0.47] (l16) {Update as Required} (scrmO.west);
\coordinate (rgS) at (1115,412);
\draw[garr] (rgS) -- node[lbl, above] (l17) {Refine CIPs, Threat Modules} node[lbl, below] (l18) {and Intelligence Mission Data} (rgS -| voltG.west);
\draw[garr] (mdcitaO.east |- scrmG.west) -- node[lbl, above] (l19) {Update as Required} (scrmG.west);
\coordinate (gE1) at (1564,402);
\draw[yarr] (voltG.east) -- node[lbl, above, pos=0.55] (l20) {Update as Required} (voltG.east -| gE1);
\draw[yarr] (mdcitaG.east) -- node[lbl, above, pos=0.45] (l21) {Update as Required} (mdcitaG.east -| gE1);
\draw[parr, line width=1.8pt] (scrfp.east) -- node[slbl, above] (l22) {Source} node[slbl, below] (l23) {Selection} (msaaw.west);
\draw[carr, line width=1.8pt] (tmrrrfp.east) -- node[slbl, above] (l24) {Source} node[slbl, below] (l25) {Selection} (tmrraw.west);
\draw[carr, line width=1.8pt] (emdrfp.east) -- node[slbl, above] (l26) {Source} node[slbl, below] (l27) {Selection} (emdaw.west);
\draw[oarr, line width=1.8pt] (lriprfp.east) -- node[slbl, above] (l28) {Source} node[slbl, below] (l29) {Selection} (lripaw.west);
\draw[garr, line width=1.8pt] (frprfp.east) -- node[slbl, above] (l30) {Source} node[slbl, below] (l31) {Selection} (frpaw.west);
\draw[cyaA, line width=1.2pt, -{Triangle[length=5pt,width=5pt]}] (acqP.south) -- (acqP.south |- tmrrrfp.north);
\draw[cyaA, line width=1.2pt, -{Triangle[length=5pt,width=5pt]}] (acqC.south) -- (acqC.south |- emdrfp.north);
\draw[oraA, line width=1.2pt, -{Triangle[length=5pt,width=5pt]}] (acqO.south) -- (acqO.south |- lriprfp.north);
\draw[greA, line width=1.2pt, -{Triangle[length=5pt,width=5pt]}] (acqG.south) -- (acqG.south |- frprfp.north);
\coordinate (cpE) at (818,538);
\draw[carr] (proto.east) -- node[lbl, above] (l32) {Competitive} node[lbl, below] (l33) {Prototyping} (proto.east -| cpE);
\draw[purA, line width=1.5pt, -{Triangle[length=7pt,width=7pt]}] (ditl.south) .. controls (262,585) and (335,620) .. (pppP.west);
\coordinate (rcs1) at (483,620);
\coordinate (rce1) at (700,620);
\draw[carr] (rcs1) -- node[rlbl, above] (l34) {Resources CI, Cybersecurity, and Security Environment} (rce1);
\coordinate (ros1) at (860,621);
\draw[oarr] (ros1) -- node[rlbl, above] (l35) {Resources CI, Cybersecurity, and Security Environment} (ros1 -| pppO.west);
\draw[garr] (pppO.east) -- node[rlbl, above] (l36) {Resources CI, Cybersecurity, and} node[rlbl, below] (l37) {Security Environment} (pppO.east -| pppG.west);
\draw[edge, dashed, line width=0.6pt] (pdr1.north) .. controls (730,570) and (775,570) .. (pdr2.north);
\coordinate (jS) at (955,704);
\coordinate (jE) at (1193,704);
\draw[oarr] (jS) -- node[lbl, above] (l38) {JITC Interoperability Testing} (jE);
\coordinate (dtpS) at (615,723);
\coordinate (dtpE) at (778,723);
\draw[carr] (dtpS) -- node[lbl, above] (l39) {Developmental Testing of Prototypes} (dtpE);
\coordinate (dtS) at (865,723);
\draw[oarr] (dtS) -- node[lbl, above] (l40) {Developmental Testing} (dtS -| tempO.west);
\draw[greA, line width=2pt, dotted, -{Triangle[length=7pt,width=8pt]}] (tempO.east) -- node[slbl, above] (l41) {OT\&E} (tempO.east -| iote.west);
\coordinate (dmS) at (969,790);
\draw[oarr] (dmS) -- node[lbl, above] (l42) {Demonstrate} node[lbl, below] (l43) {Product Support} (dmS -| lcspO.west);
\draw[purA, line width=1pt, -{Triangle[length=3pt,width=3pt]}] (iceP.east) -- ++(9,0);
\draw[cyaA, line width=1pt, -{Triangle[length=3pt,width=3pt]}] (iceC.east) -- ++(8,0);
\draw[oraA, line width=1pt, -{Triangle[length=3pt,width=3pt]}] (iceO.east) -- ++(10,0);
\draw[greA, line width=1pt, -{Triangle[length=3pt,width=3pt]}] (iceG.east) -- ++(10,0);
\draw[cyaA, line width=1.5pt, -{Triangle[length=5pt,width=5pt]}] (afC.east) -- (afC.east -| ffC.west);
\draw[cyaA, line width=1.5pt, -{Triangle[length=5pt,width=5pt]}] (tgtC.east) -- (tgtC.east -| ffC.west);
\draw[olv, line width=2pt, -{Triangle[length=8pt,width=8pt]}] (tgtG.east) -- (olE);
\end{pgfonlayer}
\end{tikzpicture}
\end{document}
